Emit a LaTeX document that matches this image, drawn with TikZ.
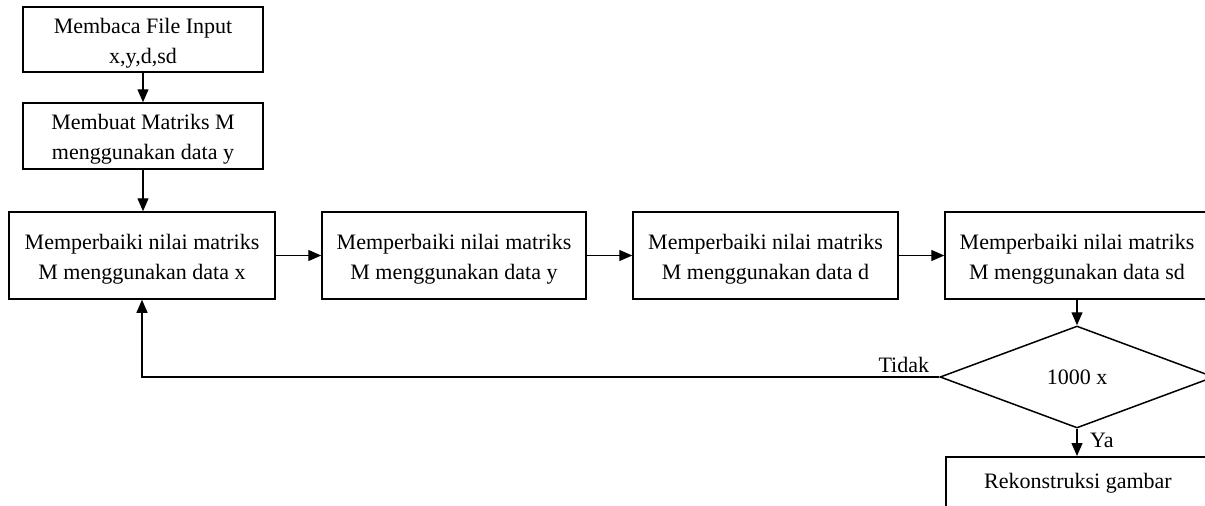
\documentclass[tikz,border=0pt]{standalone}
\usepackage{fontspec}
\setmainfont{Liberation Serif}
\usetikzlibrary{shapes.geometric,arrows.meta}
\newcommand\mystrut{\rule{0pt}{22pt}}
\begin{document}
\begin{tikzpicture}[x=1pt,y=-1pt,
  every node/.style={font=\fontsize{22}{30}\selectfont},
  box/.style={draw, line width=1.5pt, align=center, inner sep=0pt, minimum height=87pt, minimum width=264pt},
  smallbox/.style={draw, line width=1.5pt, align=center, inner sep=0pt, minimum height=65pt, minimum width=240pt},
  arr/.style={line width=1.3pt, -{Triangle[length=13pt,width=11pt]}},
  lbl/.style={inner sep=0pt}
]
\useasboundingbox (0,0) rectangle (1205,506);
\clip (0,0) rectangle (1205,506);

\node[smallbox] (b1) at (143,39.5) {\mystrut Membaca File Input\\x,y,d,sd};
\node[smallbox, minimum height=66pt] (b2) at (143,136) {\mystrut Membuat Matriks M\\menggunakan data y};
\node[box, minimum width=266pt] (b3) at (142,255.5) {\mystrut Memperbaiki nilai matriks\\M menggunakan data x};
\node[box] (b4) at (454,255.5) {\mystrut Memperbaiki nilai matriks\\M menggunakan data y};
\node[box, minimum width=265pt] (b5) at (765.5,255.5) {\mystrut Memperbaiki nilai matriks\\M menggunakan data d};
\node[box] (b6) at (1077,255.5) {\mystrut Memperbaiki nilai matriks\\M menggunakan data sd};
\node[draw, line width=1.5pt, diamond, inner sep=0pt, minimum width=274pt, minimum height=102pt] (d) at (1077,377) {1000 x};
\node[draw, line width=1.5pt, anchor=north, minimum width=264pt, inner xsep=0pt, inner ysep=17pt, text height=15pt, text depth=5pt] (r) at (1078,456) {Rekonstruksi gambar};

\draw[arr] (b1) -- (b2);
\draw[arr] (b2.south) -- (b2.south |- b3.north);
\draw[arr] (b3) -- (b4);
\draw[arr] (b4) -- (b5);
\draw[arr] (b5) -- (b6);
\draw[arr] (b6) -- (d);
\draw[arr] (d.south) -- (d.south |- r.north);
\draw[arr] (d.west) -- (b3.south |- d.west) -- (b3.south);

\node[lbl, anchor=base east] (tidak) at ([shift={(-10pt,5pt)}]d.west) {Tidak};
\node[lbl, anchor=base west] (ya) at ([shift={(13pt,-19pt)}]d.south) {Ya};
\end{tikzpicture}
\end{document}
